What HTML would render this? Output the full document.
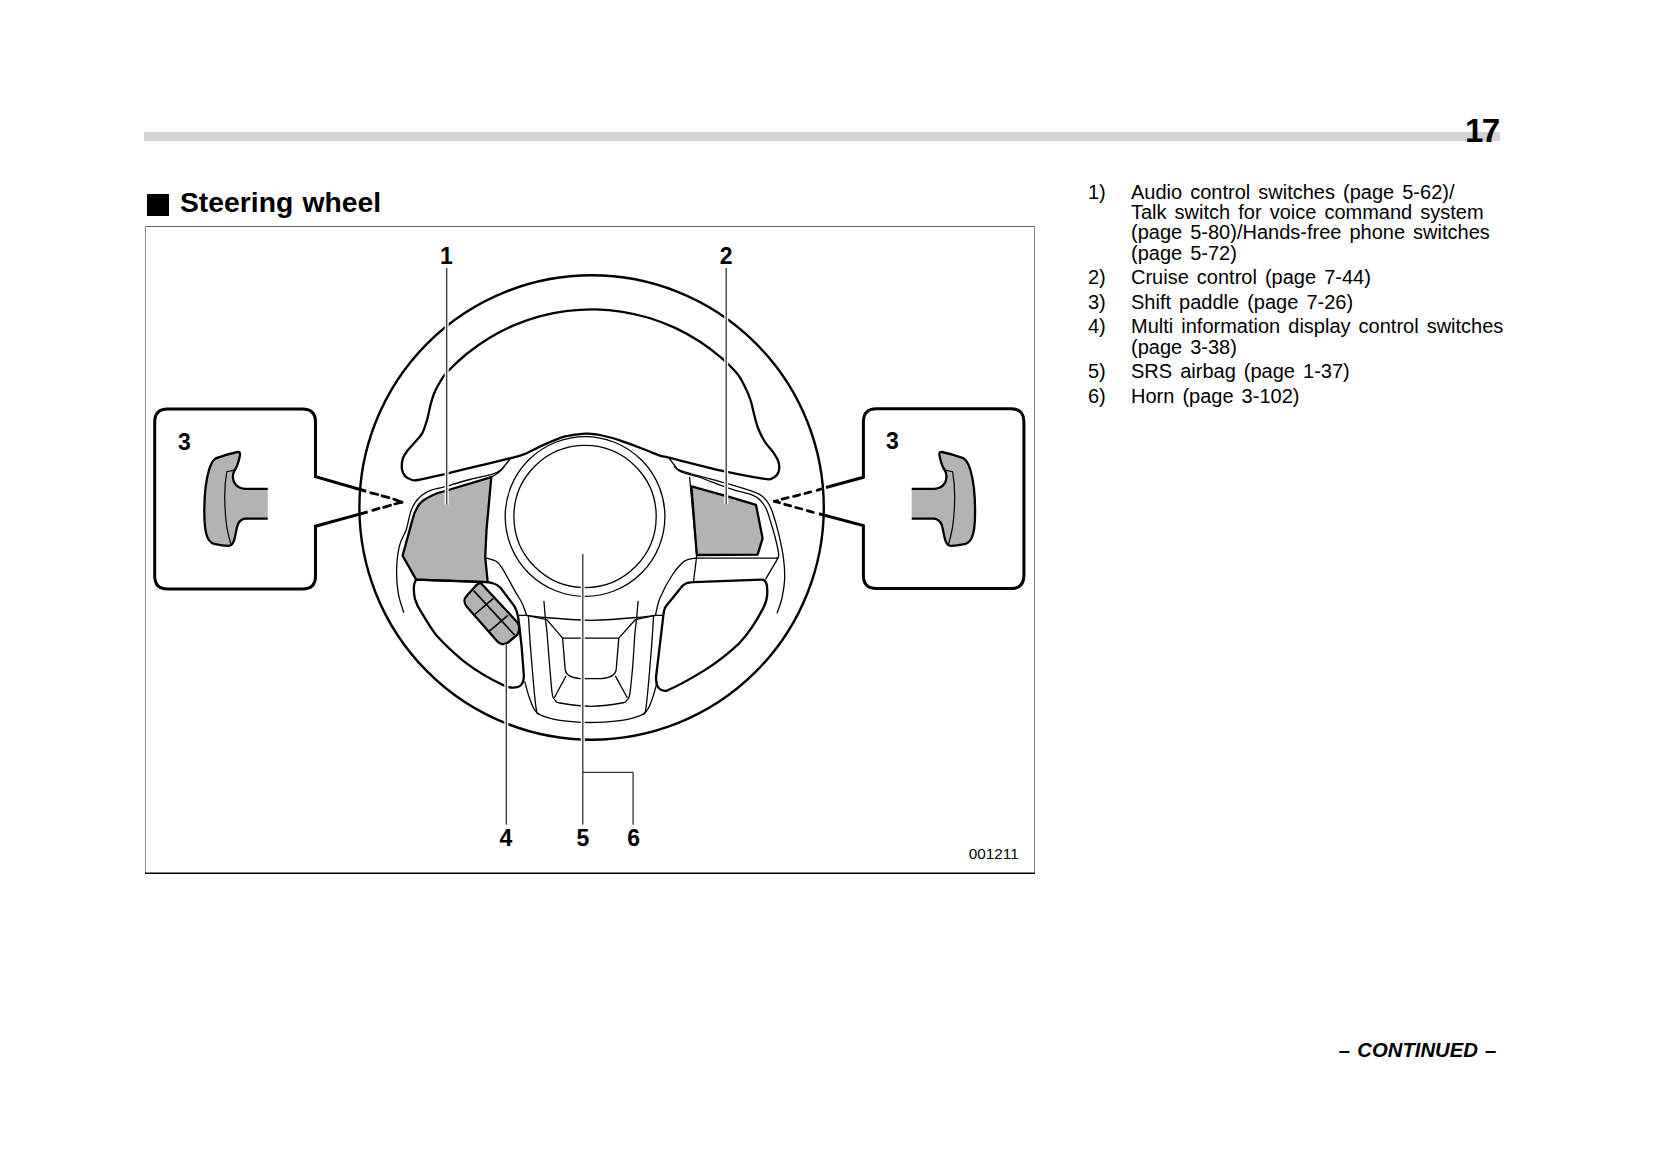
<!DOCTYPE html>
<html><head><meta charset="utf-8">
<style>
html,body{margin:0;padding:0;background:#fff;}
body{width:1654px;height:1174px;position:relative;overflow:hidden;font-family:"Liberation Sans",sans-serif;color:#000;}
.abs{position:absolute;white-space:nowrap;}
#bar{position:absolute;left:144px;top:132px;width:1356px;height:9px;background:#d3d3d3;}
#pg{font-weight:bold;font-size:33px;line-height:33px;letter-spacing:-1.5px;}
#title{font-weight:bold;font-size:28.3px;line-height:30px;word-spacing:1.5px;}
#sq{position:absolute;left:147px;top:194px;width:22px;height:22px;background:#000;}
.li{font-size:20px;line-height:20.4px;word-spacing:2.5px;}
#cont{font-weight:bold;font-style:italic;font-size:20.3px;line-height:20px;word-spacing:1.6px;}
svg{position:absolute;left:0;top:0;}
</style></head><body>
<div id="bar"></div>
<div id="pg" class="abs" style="left:1465px;top:114px">17</div>
<div id="sq"></div>
<div id="title" class="abs" style="left:180px;top:186.7px">Steering wheel</div>

<div class="abs li" style="left:1088px;top:181.5px">1)</div>
<div class="abs li" style="left:1131px;top:181.5px">Audio control switches (page 5-62)/<br>Talk switch for voice command system<br>(page 5-80)/Hands-free phone switches<br>(page 5-72)</div>
<div class="abs li" style="left:1088px;top:267.2px">2)</div>
<div class="abs li" style="left:1131px;top:267.2px">Cruise control (page 7-44)</div>
<div class="abs li" style="left:1088px;top:291.6px">3)</div>
<div class="abs li" style="left:1131px;top:291.6px">Shift paddle (page 7-26)</div>
<div class="abs li" style="left:1088px;top:316.1px">4)</div>
<div class="abs li" style="left:1131px;top:316.1px">Multi information display control switches<br>(page 3-38)</div>
<div class="abs li" style="left:1088px;top:360.9px">5)</div>
<div class="abs li" style="left:1131px;top:360.9px">SRS airbag (page 1-37)</div>
<div class="abs li" style="left:1088px;top:385.5px">6)</div>
<div class="abs li" style="left:1131px;top:385.5px">Horn (page 3-102)</div>

<div id="cont" class="abs" style="left:1338.8px;top:1040px">– CONTINUED –</div>

<svg width="1654" height="1174" viewBox="0 0 1654 1174">
<line x1="145" y1="226.5" x2="1035" y2="226.5" stroke="#666" stroke-width="1"/>
<line x1="145.5" y1="226" x2="145.5" y2="873" stroke="#888" stroke-width="1"/>
<line x1="1034.5" y1="226" x2="1034.5" y2="873" stroke="#888" stroke-width="1"/>
<line x1="145" y1="873.2" x2="1035" y2="873.2" stroke="#000" stroke-width="1.6"/>
<circle cx="591.6" cy="507.5" r="232.2" fill="none" stroke="#000" stroke-width="2.4"/>
<path d="M590.0,433.8 C587.1,433.6 586.8,433.3 582.5,433.8 C578.2,434.3 570.9,434.8 564.3,436.7 C557.6,438.6 549.2,442.5 542.6,445.4 C536.0,448.3 529.7,452.0 524.4,454.1 C519.1,456.2 519.7,455.8 510.6,458.1 C501.5,460.4 480.7,465.3 470.0,467.9 C459.3,470.5 454.9,471.8 446.2,473.8 C437.5,475.8 423.9,479.1 418.0,480.0 C412.1,480.9 413.2,480.2 411.0,479.5 C408.8,478.8 406.5,477.8 405.0,476.0 C403.5,474.2 402.2,471.7 401.9,468.7 C401.6,465.7 402.0,461.1 403.0,458.0 C404.0,454.9 405.8,452.8 408.0,450.0 C410.2,447.2 413.6,443.9 416.0,441.0 C418.4,438.1 420.6,436.4 422.4,432.9 C424.2,429.4 425.6,424.6 427.0,420.0 C428.4,415.4 429.3,409.5 430.5,405.0 C431.7,400.5 432.7,396.8 434.3,393.0 C435.9,389.2 437.9,385.4 440.0,382.0 C442.1,378.6 442.4,377.1 446.9,372.3 C451.5,367.5 460.0,359.3 467.1,353.5 C474.3,347.7 481.9,342.4 489.7,337.7 C497.6,332.9 505.9,328.7 514.3,325.1 C522.8,321.5 531.5,318.5 540.4,316.1 C549.3,313.8 558.4,312.0 567.5,310.9 C576.6,309.8 585.9,309.3 595.1,309.4 C604.2,309.6 613.5,310.4 622.5,311.8 C631.6,313.3 640.7,315.4 649.4,318.0 C658.2,320.7 666.9,324.1 675.2,327.9 C683.5,331.8 691.6,336.3 699.3,341.3 C707.0,346.3 715.0,352.5 721.4,357.9 C727.7,363.4 733.6,369.3 737.5,374.1 C741.4,378.9 742.8,382.7 745.0,387.0 C747.2,391.3 749.0,395.5 750.5,400.0 C752.0,404.5 752.8,409.3 754.0,414.0 C755.2,418.7 756.2,423.3 758.0,428.0 C759.8,432.7 762.5,438.0 765.0,442.0 C767.5,446.0 770.8,448.7 773.0,452.0 C775.2,455.3 777.6,458.7 778.5,462.0 C779.4,465.3 779.6,469.2 778.5,472.0 C777.4,474.8 774.6,477.4 772.0,478.5 C769.4,479.6 771.5,480.0 763.0,478.7 C754.5,477.4 736.7,474.1 721.3,470.7 C705.9,467.3 681.0,460.6 670.7,458.1 C660.5,455.6 664.0,457.0 659.8,455.6 C655.6,454.2 651.9,452.4 645.3,449.8 C638.6,447.2 627.4,442.8 619.9,440.3 C612.4,437.8 605.0,436.1 600.0,435.0 C595.0,433.9 592.9,434.0 590.0,433.8 Z" fill="none" stroke="#000" stroke-width="2.3" stroke-linejoin="round" stroke-linecap="round" />
<circle cx="585.05" cy="516.5" r="79.85" fill="none" stroke="#000" stroke-width="1.3"/>
<circle cx="585.05" cy="516.5" r="71.15" fill="none" stroke="#000" stroke-width="1.3"/>
<path d="M491.3,477.2 L443.4,491.5 C436,493.3 429,496.5 423,500.7 C419.5,503.5 418,505.5 416.9,508.3 C414.5,512.5 413.5,515 412.8,518.5 L402.6,555.8 L416.2,579.6 L487.7,582.2 L485.2,557 L486.5,530 Z" fill="#b3b3b3" stroke="#000" stroke-width="2.3" stroke-linejoin="round" stroke-linecap="round" />
<path d="M403.7,612.4 C402.8,609.2 399.5,600.5 398.3,593.3 C397.1,586.1 396.4,577.3 396.6,569.4 C396.8,561.5 397.9,552.2 399.5,545.6 C401.1,539.0 404.3,535.4 406.1,530.0 C407.9,524.6 408.8,517.9 410.2,513.4 C411.6,508.9 412.9,506.2 414.8,503.2 C416.7,500.2 418.9,497.6 421.5,495.5 C424.1,493.4 427.1,491.8 430.7,490.4 C434.3,489.0 436.8,488.9 443.4,487.1 C449.9,485.3 461.9,481.6 470.0,479.5 C478.1,477.4 486.7,476.0 491.8,474.4 C496.9,472.8 498.1,471.8 500.5,470.1 C502.9,468.4 504.3,466.0 506.0,464.0 C507.7,462.0 509.8,459.2 510.6,458.3" fill="none" stroke="#000" stroke-width="1.3" stroke-linejoin="round" stroke-linecap="round" />
<path d="M491.3,477.2 C492.6,476.4 496.9,473.9 499.0,472.2 C501.1,470.5 503.2,467.9 504.0,467.0" fill="none" stroke="#000" stroke-width="1.3" stroke-linejoin="round" stroke-linecap="round" />
<path d="M691.4,486.3 L729.2,496.8 L756,504.9 L762.6,538.3 L757.6,554.7 L696.8,555 Z" fill="#b3b3b3" stroke="#000" stroke-width="2.3" stroke-linejoin="round" stroke-linecap="round" />
<path d="M669.2,458.3 C670.2,459.6 673.0,463.9 675.3,466.1 C677.6,468.3 674.0,468.4 683.0,471.4 C692.0,474.4 717.3,480.7 729.2,484.2 C741.1,487.7 748.9,490.1 754.5,492.2 C760.1,494.3 760.5,494.8 762.9,496.8 C765.3,498.9 767.3,501.3 769.1,504.5 C770.9,507.7 772.1,510.9 773.7,516.0 C775.4,521.1 777.3,527.9 779.0,535.2 C780.7,542.5 782.8,552.5 783.7,560.0 C784.6,567.5 784.9,573.7 784.6,580.0 C784.3,586.3 783.2,592.5 782.0,598.0 C780.8,603.5 778.0,610.4 777.2,612.9" fill="none" stroke="#000" stroke-width="1.3" stroke-linejoin="round" stroke-linecap="round" />
<path d="M674.3,466.4 C675.5,467.4 677.3,470.3 681.6,472.2 C685.9,474.1 692.1,474.8 700.0,477.5 C707.9,480.2 720.4,485.4 729.2,488.4 C738.0,491.4 747.8,493.2 753.0,495.3 C758.2,497.4 758.4,498.5 760.6,500.7 C762.8,502.9 764.5,505.2 766.0,508.3 C767.5,511.4 768.3,514.2 769.8,519.1 C771.3,524.0 773.7,531.5 775.2,537.5 C776.7,543.5 778.5,551.6 778.7,555.1 C779.0,558.6 777.0,557.7 776.7,558.2" fill="none" stroke="#000" stroke-width="1.3" stroke-linejoin="round" stroke-linecap="round" />
<path d="M689.6,477.3 L696.8,555 L693.5,582" fill="none" stroke="#000" stroke-width="1.3" stroke-linejoin="round" stroke-linecap="round" />
<path d="M696.8,558.1 L778,558.1 L765.8,578.8" fill="none" stroke="#000" stroke-width="1.3" stroke-linejoin="round" stroke-linecap="round" />
<path d="M693.7,582.2 L761.5,579.6 C766,579.5 767.5,584 767.3,593.7 C767,600 765,605 762.7,609.1 C755,624 745,637 739.7,642.8 C728,654 716,663 704.4,670.4 C692,678 680,685 667.6,690.3 C663,692 658,689 656.9,685 C656,682 656,679 656.1,676.5 L663,618.3 C663.5,612 664.5,608 666.1,606 L683,585.3 C686,583 689,582.2 693.7,582.2 Z" fill="none" stroke="#000" stroke-width="2.3" stroke-linejoin="round" stroke-linecap="round" />
<path d="M416.2,579.6 C413,584 413.5,592 415,599.2 C416.5,604 418,607 420.4,610.7 C426,620 430,627 436.1,635 C445,645 455,654 463.6,661.1 C475,670 490,679 504,685.5 C510,688.5 515,688 519,686.5 C522.5,685 524,681 523.8,675 L521.5,645.2 L518.8,622 C518,614 516,608 513.3,604.7 L500.5,587.7 C498.5,585.5 496,584 492,583 L487.7,582.2 Z" fill="none" stroke="#000" stroke-width="2.3" stroke-linejoin="round" stroke-linecap="round" />
<path d="M486.0,557.9 C487.7,558.5 493.6,559.6 496.3,561.3 C499.0,563.0 499.1,563.1 502.2,568.1 C505.3,573.1 511.7,585.3 515.0,591.1 C518.3,596.9 520.1,599.0 522.0,603.0 C523.9,607.0 525.7,612.8 526.4,614.8" fill="none" stroke="#000" stroke-width="1.3" stroke-linejoin="round" stroke-linecap="round" />
<path d="M696.0,558.0 C694.1,558.5 688.5,558.3 684.5,561.1 C680.5,563.9 676.4,568.9 672.3,575.0 C668.2,581.1 662.8,591.4 660.0,598.0 C657.2,604.6 656.3,612.0 655.6,614.8" fill="none" stroke="#000" stroke-width="1.3" stroke-linejoin="round" stroke-linecap="round" />
<path d="M524.9,682.0 C525.5,684.3 527.3,691.5 528.8,696.0 C530.3,700.5 532.3,705.8 533.9,708.8 C535.5,711.8 536.0,712.4 538.3,713.9 C540.6,715.4 544.3,716.6 547.9,717.7 C551.5,718.8 552.8,719.5 560.0,720.3 C567.2,721.1 580.7,722.5 591.0,722.5 C601.3,722.5 614.8,721.1 622.0,720.3 C629.2,719.5 630.5,718.8 634.1,717.7 C637.7,716.6 641.4,715.4 643.7,713.9 C646.0,712.4 646.5,711.8 648.1,708.8 C649.7,705.8 651.7,700.5 653.2,696.0 C654.7,691.5 656.5,684.3 657.1,682.0" fill="none" stroke="#000" stroke-width="1.3" stroke-linejoin="round" stroke-linecap="round" />
<path d="M528.4,615.8 C528.8,621.5 529.5,634.9 530.7,650.0 C531.9,665.1 534.5,695.6 535.8,706.2 C537.1,716.9 537.9,712.6 538.3,713.9" fill="none" stroke="#000" stroke-width="1.3" stroke-linejoin="round" stroke-linecap="round" />
<path d="M653.6,615.8 C653.2,621.5 652.5,634.9 651.3,650.0 C650.1,665.1 647.5,695.6 646.2,706.2 C644.9,716.9 644.1,712.6 643.7,713.9" fill="none" stroke="#000" stroke-width="1.3" stroke-linejoin="round" stroke-linecap="round" />
<path d="M519.2,615.3 L526.4,615.3 C535,616.3 540,617 545.3,617.5 C560,618.8 575,620 591,620.3 C607,620 622,618.8 636.7,617.5 C642,617 647,616.3 655.6,615.3 L663.5,615.3" fill="none" stroke="#000" stroke-width="1.3" stroke-linejoin="round" stroke-linecap="round" />
<path d="M526.4,615.3 L546.8,619.7 L562.6,638.1 L618.8,638.1 L635.2,619.7 L655.6,615.3" fill="none" stroke="#000" stroke-width="1.3" stroke-linejoin="round" stroke-linecap="round" />
<path d="M543.9,601.3 C544.1,603.9 544.8,611.6 545.3,617.2 C545.8,622.8 546.4,626.2 547.2,635.0 C548.0,643.8 549.1,660.0 550.0,670.0 C550.9,680.0 551.5,689.9 552.4,695.0 C553.3,700.1 554.3,699.2 555.6,700.5 C556.9,701.8 554.1,702.0 560.0,703.0 C565.9,704.0 580.7,706.3 591.0,706.3 C601.3,706.3 616.1,704.0 622.0,703.0 C627.9,702.0 625.1,701.8 626.4,700.5 C627.7,699.2 628.6,700.1 629.6,695.0 C630.6,689.9 631.5,680.0 632.4,670.0 C633.3,660.0 634.1,643.8 634.8,635.0 C635.5,626.2 636.2,622.8 636.7,617.2 C637.2,611.6 637.9,603.9 638.1,601.3" fill="none" stroke="#000" stroke-width="1.3" stroke-linejoin="round" stroke-linecap="round" />
<path d="M562.6,638.1 L565.2,669.4 C566,675 570,678 580.5,678.6 L601,678.6 C611,678 615.5,675 616.2,669.4 L618.8,638.1" fill="none" stroke="#000" stroke-width="1.3" stroke-linejoin="round" stroke-linecap="round" />
<path d="M565.8,676.4 L554.5,697.5 M615.6,676.4 L627.1,697.5" fill="none" stroke="#000" stroke-width="1.3" stroke-linejoin="round" stroke-linecap="round" />
<path d="M481,583.2 L517.5,622.5 C519.5,626 519.5,631 517.5,634.5 L508,642.5 C504.5,645 500,644.5 497.5,641.5 L467,607 C463.5,603 463.8,598.5 467,595.5 L476.5,585 C478,583.5 479.5,582.8 481,583.2 Z" fill="#b3b3b3" stroke="#000" stroke-width="2.3" stroke-linejoin="round" stroke-linecap="round" />
<path d="M474.1,591.1 L514.1,634.5 M474.1,615 L492.8,598.8 M489.4,631.1 L507.3,615.8" fill="none" stroke="#000" stroke-width="1.6" stroke-linejoin="round" stroke-linecap="round" />
<line x1="446.7" y1="268" x2="446.7" y2="504.5" stroke="#fff" stroke-width="4"/>
<line x1="446.7" y1="268" x2="446.7" y2="504.5" stroke="#333" stroke-width="1.3"/>
<line x1="726.2" y1="268" x2="726.2" y2="504.3" stroke="#fff" stroke-width="4"/>
<line x1="726.2" y1="268" x2="726.2" y2="504.3" stroke="#333" stroke-width="1.3"/>
<line x1="506.3" y1="644.5" x2="506.3" y2="824.8" stroke="#fff" stroke-width="4"/>
<line x1="506.3" y1="644.5" x2="506.3" y2="824.8" stroke="#333" stroke-width="1.3"/>
<line x1="582.8" y1="553.9" x2="582.8" y2="824.8" stroke="#fff" stroke-width="4"/>
<line x1="582.8" y1="553.9" x2="582.8" y2="824.8" stroke="#333" stroke-width="1.3"/>
<line x1="582.8" y1="772.4" x2="633.1" y2="772.4" stroke="#333" stroke-width="1.3"/>
<line x1="633.1" y1="772.4" x2="633.1" y2="824.8" stroke="#333" stroke-width="1.3"/>
<path d="M366.2,491.2 L315.5,476.7 L315.5,421.9 Q315.5,408.9 302.5,408.9 L167.7,408.9 Q154.7,408.9 154.7,421.9 L154.7,576 Q154.7,589 167.7,589 L302.5,589 Q315.5,589 315.5,576 L315.5,526.2 L367.7,511.9" fill="none" stroke="#000" stroke-width="3" stroke-linejoin="miter"/>
<path d="M826,487.5 L863.4,477.3 L863.4,421.8 Q863.4,408.8 876.4,408.8 L1010.9,408.8 Q1023.9,408.8 1023.9,421.8 L1023.9,575.6 Q1023.9,588.6 1010.9,588.6 L876.4,588.6 Q863.4,588.6 863.4,575.6 L863.4,525.6 L819,513.8" fill="none" stroke="#000" stroke-width="3" stroke-linejoin="miter"/>
<line x1="370.8" y1="492.8" x2="377.9" y2="494.5" stroke="#000" stroke-width="2.8" stroke-linecap="round"/>
<line x1="382" y1="495.8" x2="388.9" y2="497.6" stroke="#000" stroke-width="2.8" stroke-linecap="round"/>
<line x1="393.8" y1="499.1" x2="402" y2="502.2" stroke="#000" stroke-width="2.8" stroke-linecap="round"/>
<line x1="372.8" y1="510.4" x2="379" y2="508.3" stroke="#000" stroke-width="2.8" stroke-linecap="round"/>
<line x1="383.6" y1="507.3" x2="390.5" y2="505.3" stroke="#000" stroke-width="2.8" stroke-linecap="round"/>
<line x1="394.8" y1="504" x2="402" y2="502.2" stroke="#000" stroke-width="2.8" stroke-linecap="round"/>
<line x1="817.1" y1="490.3" x2="821" y2="489" stroke="#000" stroke-width="2.8" stroke-linecap="round"/>
<line x1="805" y1="493.5" x2="810.7" y2="491.9" stroke="#000" stroke-width="2.8" stroke-linecap="round"/>
<line x1="793.6" y1="496.3" x2="799.6" y2="494.8" stroke="#000" stroke-width="2.8" stroke-linecap="round"/>
<line x1="782.1" y1="499.2" x2="788.2" y2="497.6" stroke="#000" stroke-width="2.8" stroke-linecap="round"/>
<line x1="774.5" y1="501.4" x2="777.5" y2="500.6" stroke="#000" stroke-width="2.8" stroke-linecap="round"/>
<line x1="807.2" y1="510.6" x2="813.3" y2="512.4" stroke="#000" stroke-width="2.8" stroke-linecap="round"/>
<line x1="795.8" y1="507.5" x2="801.8" y2="509" stroke="#000" stroke-width="2.8" stroke-linecap="round"/>
<line x1="784.7" y1="504.3" x2="790.7" y2="505.9" stroke="#000" stroke-width="2.8" stroke-linecap="round"/>
<line x1="774.5" y1="501.4" x2="779.6" y2="502.7" stroke="#000" stroke-width="2.8" stroke-linecap="round"/>
<g transform=""><path d="M267.7,488.9 L245.2,488.9 C239,488.5 236,486 234,482 C232.5,478 232.5,474 234.5,470.5 C237,467 238.5,462 239.6,457 C240.5,453 240,451.5 237.5,452 C230,453.5 222,456 215.6,458.4 C212,461 210.5,465 209,470 C206,480 204.3,495 204.3,511.6 C204.3,525 205.5,533 207.4,537.1 C209,541 211,543 214,543.8 C219,545 224,545.8 228.9,545.8 C232,545.5 233.5,543 234.5,539 C236,533 236.5,527 238.5,523 C240.5,520 243,518.7 246,518.7 L267.7,518.7 Z" fill="#b3b3b3" stroke="none"/><path d="M267.7,488.9 L245.2,488.9 C239,488.5 236,486 234,482 C232.5,478 232.5,474 234.5,470.5 C237,467 238.5,462 239.6,457 C240.5,453 240,451.5 237.5,452 C230,453.5 222,456 215.6,458.4 C212,461 210.5,465 209,470 C206,480 204.3,495 204.3,511.6 C204.3,525 205.5,533 207.4,537.1 C209,541 211,543 214,543.8 C219,545 224,545.8 228.9,545.8 C232,545.5 233.5,543 234.5,539 C236,533 236.5,527 238.5,523 C240.5,520 243,518.7 246,518.7 L267.7,518.7" fill="none" stroke="#000" stroke-width="2.3" stroke-linejoin="round"/><path d="M234.5,470.2 L226.8,471.7 C225,482 224.5,492 224.8,501.3 C225,512 225.8,520 226.8,526.9 C228,534 229.3,539 230.9,544.3" fill="none" stroke="#000" stroke-width="1.2"/></g>
<g transform="translate(1179.4,0) scale(-1,1)"><path d="M267.7,488.9 L245.2,488.9 C239,488.5 236,486 234,482 C232.5,478 232.5,474 234.5,470.5 C237,467 238.5,462 239.6,457 C240.5,453 240,451.5 237.5,452 C230,453.5 222,456 215.6,458.4 C212,461 210.5,465 209,470 C206,480 204.3,495 204.3,511.6 C204.3,525 205.5,533 207.4,537.1 C209,541 211,543 214,543.8 C219,545 224,545.8 228.9,545.8 C232,545.5 233.5,543 234.5,539 C236,533 236.5,527 238.5,523 C240.5,520 243,518.7 246,518.7 L267.7,518.7 Z" fill="#b3b3b3" stroke="none"/><path d="M267.7,488.9 L245.2,488.9 C239,488.5 236,486 234,482 C232.5,478 232.5,474 234.5,470.5 C237,467 238.5,462 239.6,457 C240.5,453 240,451.5 237.5,452 C230,453.5 222,456 215.6,458.4 C212,461 210.5,465 209,470 C206,480 204.3,495 204.3,511.6 C204.3,525 205.5,533 207.4,537.1 C209,541 211,543 214,543.8 C219,545 224,545.8 228.9,545.8 C232,545.5 233.5,543 234.5,539 C236,533 236.5,527 238.5,523 C240.5,520 243,518.7 246,518.7 L267.7,518.7" fill="none" stroke="#000" stroke-width="2.3" stroke-linejoin="round"/><path d="M234.5,470.2 L226.8,471.7 C225,482 224.5,492 224.8,501.3 C225,512 225.8,520 226.8,526.9 C228,534 229.3,539 230.9,544.3" fill="none" stroke="#000" stroke-width="1.2"/></g>
<g font-family="Liberation Sans, sans-serif" font-weight="bold" font-size="23" text-anchor="middle" fill="#000">
<text x="446.4" y="264.2">1</text>
<text x="726.2" y="264.4">2</text>
<text x="184.5" y="449.6">3</text>
<text x="892.4" y="449">3</text>
<text x="505.9" y="846.1">4</text>
<text x="582.9" y="846.1">5</text>
<text x="633.6" y="846.1">6</text>
</g>
<text x="968.8" y="858.5" font-family="Liberation Sans, sans-serif" font-size="15.3" fill="#000">001211</text>

</svg>
</body></html>
